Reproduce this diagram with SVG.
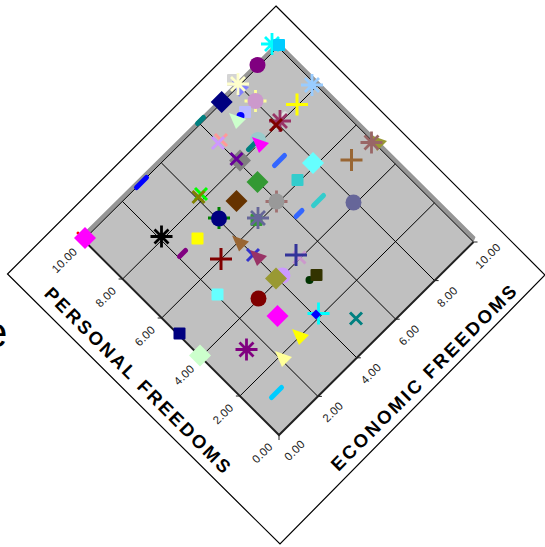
<svg xmlns="http://www.w3.org/2000/svg" xmlns:xlink="http://www.w3.org/1999/xlink" width="545" height="547" viewBox="0 0 545 547">
<style>
.grid{stroke:#000;stroke-width:1;fill:none}
.axis{stroke:#222;stroke-width:2;fill:none}
.tick{stroke:#222;stroke-width:1}
.tl{font-family:"Liberation Sans",Arial,sans-serif;font-size:11.5px;fill:#222;letter-spacing:0.3px}
.ttl{font-family:"Liberation Sans",Arial,sans-serif;font-size:18.5px;font-weight:bold;fill:#000;letter-spacing:2.6px}
.s{stroke-width:3;fill:none;stroke-linecap:butt}
.a{stroke-width:2.8;fill:none}
.d{stroke-width:5;fill:none;stroke-linecap:round}
</style>
<defs>
<rect id="sq" x="-6" y="-6" width="12" height="12" rx="1"/>
<polygon id="dia" points="0,-11 11,0 0,11 -11,0"/>
<circle id="ci" r="8"/>
<circle id="cis" r="4"/>
<polygon id="tri" points="-8,-7 9,-1 -1,9"/>
<path id="plus" d="M-11,0H11M0,-11V11"/>
<path id="x" d="M-6,-6L6,6M-6,6L6,-6"/>
<path id="ast" d="M-11,0H11M0,-11V11M-7,-7L7,7M-7,7L7,-7"/>
<path id="dash" d="M-5,5L5,-5"/>
<path id="dashs" d="M-3,3L3,-3"/>
</defs>
<rect width="545" height="547" fill="#fff"/>
<text x="-16" y="347" font-family="Liberation Sans,Arial,sans-serif" font-size="42" fill="#000">e</text>
<polygon id="frame" points="276,6 545,275 280,544 7.5,274" fill="none" stroke="#000" stroke-width="1.2"/>
<g id="plot">
<polygon points="279,435 473.5,242 278,47 83.5,240" fill="#c0c0c0"/>
<polygon points="83.5,240 278,47 473.5,242 475.5,237 278,41 81.5,235" fill="#969696"/>
<g id="grid" class="grid">
<line x1="239.9" y1="396" x2="434.4" y2="203"/>
<line x1="200.8" y1="357" x2="395.3" y2="164"/>
<line x1="161.7" y1="318" x2="356.2" y2="125"/>
<line x1="122.6" y1="279" x2="317.1" y2="86"/>
<line x1="83.5" y1="240" x2="278" y2="47"/>
<line x1="317.9" y1="396.4" x2="122.4" y2="201.4"/>
<line x1="356.8" y1="357.8" x2="161.3" y2="162.8"/>
<line x1="395.7" y1="319.2" x2="200.2" y2="124.2"/>
<line x1="434.6" y1="280.6" x2="239.1" y2="85.6"/>
<line x1="473.5" y1="242" x2="278" y2="47"/>
</g>
<polyline class="axis" points="83.5,240 279,435 473.5,242"/>
<g id="ticks" class="tick">
<line x1="83.5" y1="240" x2="79.5" y2="240"/>
<line x1="122.6" y1="279" x2="118.6" y2="279"/>
<line x1="161.7" y1="318" x2="157.7" y2="318"/>
<line x1="200.8" y1="357" x2="196.8" y2="357"/>
<line x1="239.9" y1="396" x2="235.9" y2="396"/>
<line x1="279" y1="435" x2="279" y2="440"/>
<line x1="317.9" y1="396.4" x2="321.9" y2="396.4"/>
<line x1="356.8" y1="357.8" x2="360.8" y2="357.8"/>
<line x1="395.7" y1="319.2" x2="399.7" y2="319.2"/>
<line x1="434.6" y1="280.6" x2="438.6" y2="280.6"/>
<line x1="473.5" y1="242" x2="477.5" y2="242"/>
</g>
</g>
<g id="p-labels" class="tl" text-anchor="end">
<text transform="translate(273.4,447.4) rotate(-45)">0.00</text>
<text transform="translate(234.3,408.4) rotate(-45)">2.00</text>
<text transform="translate(195.2,369.4) rotate(-45)">4.00</text>
<text transform="translate(156.1,330.4) rotate(-45)">6.00</text>
<text transform="translate(117,291.4) rotate(-45)">8.00</text>
<text transform="translate(78,252.4) rotate(-45)">10.00</text>
</g>
<g id="e-labels" class="tl">
<text transform="translate(289,461.5) rotate(-45)">0.00</text>
<text transform="translate(327.2,423.1) rotate(-45)">2.00</text>
<text transform="translate(365.4,384.7) rotate(-45)">4.00</text>
<text transform="translate(403.6,346.3) rotate(-45)">6.00</text>
<text transform="translate(441.8,307.9) rotate(-45)">8.00</text>
<text transform="translate(480,269.5) rotate(-45)">10.00</text>
</g>
<text class="ttl" text-anchor="middle" transform="translate(134,385.5) rotate(45)">PERSONAL FREEDOMS</text>
<text class="ttl" text-anchor="middle" transform="translate(429,381.5) rotate(-45)">ECONOMIC FREEDOMS</text>
<g id="markers">
<use id="m1" href="#ast" x="272" y="44" class="a" stroke="#00ffff"/>
<use id="m2" href="#sq" x="279" y="45" fill="#00ccff"/>
<use id="m3" href="#ci" x="257.5" y="65" fill="#800080"/>
<use id="m4" href="#sq" x="233" y="80" fill="#d4d4d4"/>
<use id="m5" href="#tri" x="240" y="88" fill="#8080ff"/>
<use id="m6" href="#ast" x="238" y="84" class="a" stroke="#ffffcc"/>
<use id="m7" href="#dia" x="221.7" y="102" fill="#000080"/>
<use id="m8" href="#plus" x="255.5" y="101" class="a" stroke="#ffff99"/>
<use id="m9" href="#ci" x="255.5" y="101" fill="#cc99cc"/>
<use id="m10" href="#sq" x="245" y="112" fill="#bbbbff"/>
<use id="m11" href="#cis" x="240.5" y="116" fill="#0000ff"/>
<use id="m12" href="#tri" x="237" y="120" fill="#ccffcc"/>
<use id="m13" href="#dashs" x="200.5" y="120.5" class="d" stroke="#008080"/>
<use id="m14" href="#ast" x="312" y="85" class="a" stroke="#99ccff"/>
<use id="m15" href="#plus" x="297" y="104.5" class="s" stroke="#ffff00"/>
<use id="m16" href="#dashs" x="282" y="117" class="d" stroke="#e0e0e0"/>
<use id="m17" href="#ast" x="280" y="121" class="a" stroke="#993366"/>
<use id="m18" href="#x" x="276" y="125" class="s" stroke="#800000"/>
<use id="m19" href="#x" x="221" y="140" class="s" stroke="#ff9999"/>
<use id="m20" href="#x" x="218" y="143" class="s" stroke="#cc99ff"/>
<use id="m21" href="#ci" x="258" y="140" fill="#99cccc"/>
<use id="m22" href="#dashs" x="251.5" y="146.5" class="d" stroke="#008080"/>
<use id="m23" href="#tri" x="260" y="144" fill="#ff00ff"/>
<use id="m24" href="#dia" x="240" y="160.5" fill="#808080"/>
<use id="m25" href="#x" x="236.5" y="159" class="s" stroke="#660099"/>
<use id="m26" href="#dash" x="279.5" y="160.5" class="d" stroke="#3366ff"/>
<use id="m27" href="#dia" x="313" y="163" fill="#66ffff"/>
<use id="m28" href="#plus" x="351.5" y="160" class="s" stroke="#996633"/>
<use id="m29" href="#tri" x="378" y="142" fill="#999933"/>
<use id="m30" href="#ast" x="371.5" y="142.5" class="a" stroke="#996666"/>
<use id="m31" href="#sq" x="297.5" y="180" fill="#33cccc"/>
<use id="m32" href="#dia" x="257.5" y="182" fill="#339933"/>
<use id="m33" href="#plus" x="276.5" y="201.5" class="a" stroke="#a07070"/>
<use id="m34" href="#ci" x="276.5" y="201.5" fill="#999999"/>
<use id="m35" href="#dash" x="318.5" y="200.5" class="d" stroke="#33cccc"/>
<use id="m36" href="#dashs" x="299" y="213.5" class="d" stroke="#3366ff"/>
<use id="m37" href="#ci" x="353.5" y="202.5" fill="#666699"/>
<use id="m38" href="#dia" x="236.5" y="201" fill="#663300"/>
<use id="m39" href="#x" x="201" y="194" class="s" stroke="#00ff00"/>
<use id="m40" href="#x" x="198.5" y="197" class="s" stroke="#808000"/>
<use id="m41" href="#plus" x="219" y="218" class="s" stroke="#008000"/>
<use id="m42" href="#ci" x="219" y="218.5" fill="#000080"/>
<use id="m43" href="#sq" x="256.5" y="220" fill="#339933"/>
<use id="m44" href="#ast" x="258" y="218" class="a" stroke="#666699"/>
<use id="m45" href="#sq" x="197.5" y="238.5" fill="#ffff00"/>
<use id="m46" href="#ast" x="161.5" y="236.5" class="a" stroke="#000000"/>
<circle cx="78" cy="233" r="1.5" fill="#ff0000"/>
<use id="m47" href="#dia" x="85" y="238" fill="#ff00ff"/>
<use id="m48" href="#dash" x="141.5" y="182.5" class="d" stroke="#0000ff"/>
<use id="m49" href="#dashs" x="182.5" y="253.5" class="d" stroke="#800080"/>
<use id="m50" href="#tri" x="240" y="242.5" fill="#996633"/>
<use id="m51" href="#plus" x="221" y="259" class="s" stroke="#800000"/>
<use id="m52" href="#x" x="253" y="255" class="s" stroke="#3333cc"/>
<use id="m53" href="#tri" x="258" y="257" fill="#993366"/>
<use id="m54" href="#x" x="299.5" y="257.5" class="s" stroke="#cc99cc"/>
<use id="m55" href="#plus" x="296" y="255" class="s" stroke="#333399"/>
<use id="m56" href="#ci" x="282.5" y="275.5" fill="#cc99ff"/>
<use id="m57" href="#dia" x="276" y="278.5" fill="#999933"/>
<use id="m58" href="#cis" x="309.5" y="280" fill="#003300"/>
<use id="m59" href="#sq" x="316.5" y="275" fill="#333300"/>
<use id="m60" href="#sq" x="217.5" y="294.5" fill="#66ffff"/>
<use id="m61" href="#ci" x="258.5" y="298.5" fill="#800000"/>
<use id="m62" href="#dia" x="277.5" y="316" fill="#ff00ff"/>
<use id="m63" href="#plus" x="318.5" y="313.5" class="a" stroke="#00ffff"/>
<polygon id="m64" points="316,309.5 321,314.5 316,319.5 311,314.5" fill="#0000ff"/>
<use id="m65" href="#x" x="356" y="318.5" class="s" stroke="#008080"/>
<use id="m66" href="#tri" x="300" y="336" fill="#ffff00"/>
<use id="m67" href="#sq" x="179.5" y="333.5" fill="#000080"/>
<use id="m68" href="#dia" x="200" y="355.5" fill="#ccffcc"/>
<use id="m69" href="#ast" x="246.5" y="349.5" class="a" stroke="#800080"/>
<use id="m70" href="#tri" x="283" y="358" fill="#ffff99"/>
<use id="m71" href="#dash" x="276.5" y="392.5" class="d" stroke="#00ccff"/>
</g>
</svg>
